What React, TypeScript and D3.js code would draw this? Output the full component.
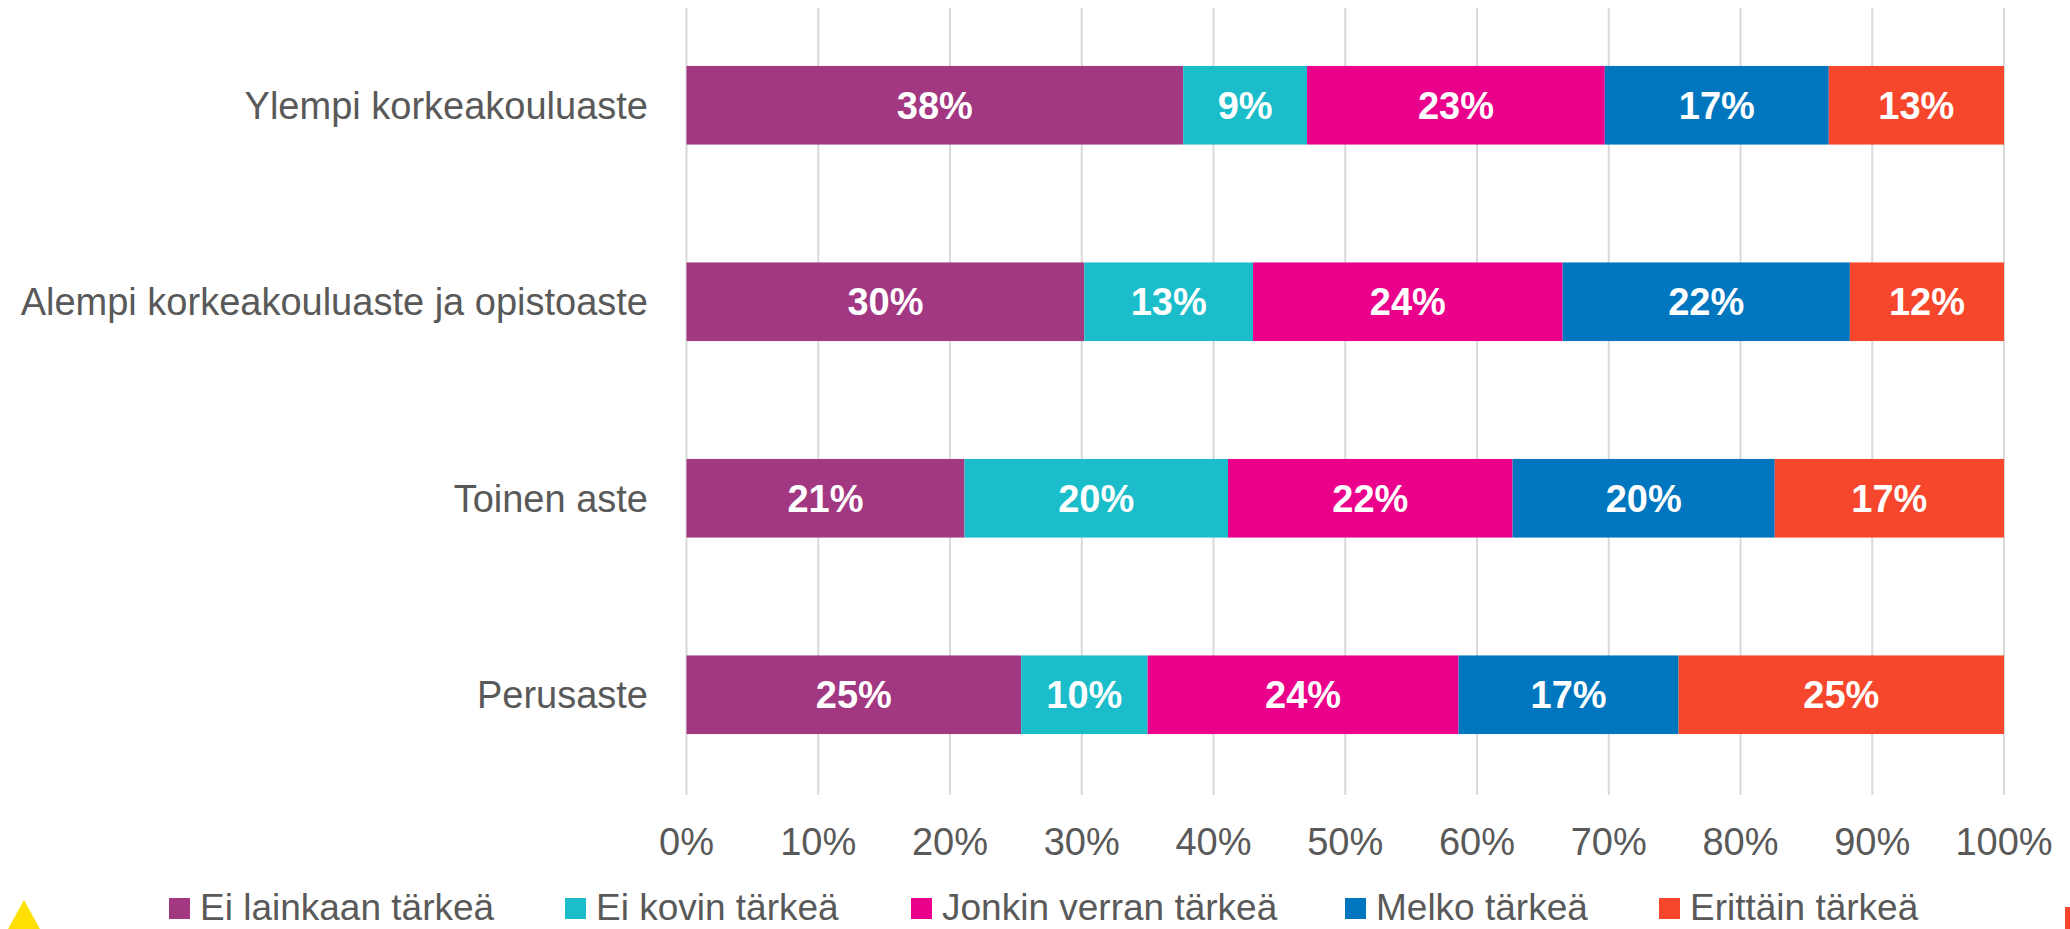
import React from "react";
import * as d3 from "d3";

const categories = [
  "Ylempi korkeakouluaste",
  "Alempi korkeakouluaste ja opistoaste",
  "Toinen aste",
  "Perusaste",
];
const seriesNames = [
  "Ei lainkaan tärkeä",
  "Ei kovin tärkeä",
  "Jonkin verran tärkeä",
  "Melko tärkeä",
  "Erittäin tärkeä",
];
const eiLainkaan = [37.7, 30.2, 21.1, 25.4];
const eiKovin = [9.4, 12.8, 20.0, 9.6];
const jonkinVerran = [22.6, 23.5, 21.6, 23.6];
const melko = [17.0, 21.8, 19.9, 16.7];
const erittain = [13.3, 11.7, 17.4, 24.7];
const colors = ["#A23782", "#1CBDCA", "#EA008A", "#0076BF", "#F6472D"];
const ticks = [0, 10, 20, 30, 40, 50, 60, 70, 80, 90, 100];

const W = 2070;
const H = 929;
const FONT = "'Liberation Sans', Arial, sans-serif";
const legendX = [169, 565, 911, 1345, 1659];

export default function App() {
  const series = [eiLainkaan, eiKovin, jonkinVerran, melko, erittain];
  const x = d3.scaleLinear().domain([0, 100]).range([686.5, 2004]);
  const y = d3
    .scaleBand<string>()
    .domain(categories)
    .range([7, 793])
    .paddingInner(0.6)
    .paddingOuter(0.3);

  const rows = categories.map((c, i) => {
    let acc = 0;
    return series.map((s, k) => {
      const v = s[i];
      const seg = { cat: c, k, x0: acc, x1: acc + v, v };
      acc += v;
      return seg;
    });
  });

  return (
    <svg
      width={W}
      height={H}
      style={{ position: "absolute", left: 0, top: 0, display: "block" }}
      fontFamily={FONT}
    >
      <rect width={W} height={H} fill="#fff" />
      {ticks.map((t) => (
        <line
          key={"g" + t}
          x1={x(t)}
          x2={x(t)}
          y1={8}
          y2={795}
          stroke="#D9D9D9"
          strokeWidth={2}
        />
      ))}
      {rows.map((segs, i) =>
        segs.map((s) => (
          <g key={i + "-" + s.k}>
            <rect
              x={x(s.x0)}
              y={y(s.cat)!}
              width={x(s.x1) - x(s.x0)}
              height={y.bandwidth()}
              fill={colors[s.k]}
            />
            <text
              x={(x(s.x0) + x(s.x1)) / 2}
              y={y(s.cat)! + y.bandwidth() / 2}
              dy="0.36em"
              textAnchor="middle"
              fill="#fff"
              fontWeight="bold"
              fontSize={38}
            >
              {Math.round(s.v) + "%"}
            </text>
          </g>
        ))
      )}
      {categories.map((c) => (
        <text
          key={c}
          x={648}
          y={y(c)! + y.bandwidth() / 2}
          dy="0.36em"
          textAnchor="end"
          fill="#595959"
          fontSize={38}
        >
          {c}
        </text>
      ))}
      {ticks.map((t) => (
        <text
          key={"t" + t}
          x={x(t)}
          y={855}
          textAnchor="middle"
          fill="#595959"
          fontSize={38}
        >
          {t + "%"}
        </text>
      ))}
      {seriesNames.map((n, k) => (
        <g key={n}>
          <rect x={legendX[k]} y={898} width={21} height={21} fill={colors[k]} />
          <text x={legendX[k] + 31} y={920} fill="#595959" fontSize={37}>
            {n}
          </text>
        </g>
      ))}
      <polygon points="8,929 40,929 24,900" fill="#FFE000" />
      <rect x={2065} y={907} width={10} height={30} fill="#F6472D" />
    </svg>
  );
}
